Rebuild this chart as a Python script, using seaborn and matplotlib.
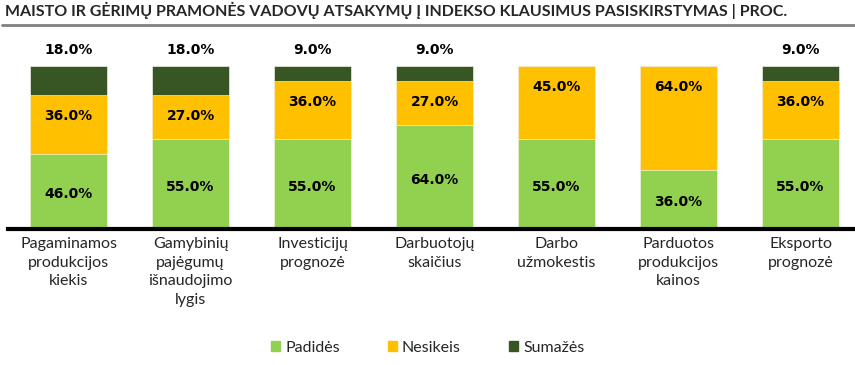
import matplotlib
matplotlib.use("Agg")
import matplotlib.pyplot as plt
from matplotlib.lines import Line2D
from matplotlib.patches import Patch
import pandas as pd
import seaborn as sns

# data (percent)
categories = ["Pagaminamos\nprodukcijos\nkiekis", "Gamybinių\npajėgumų\nišnaudojimo\nlygis",
              "Investicijų\nprognozė", "Darbuotojų\nskaičius", "Darbo\nužmokestis",
              "Parduotos\nprodukcijos\nkainos", "Eksporto\nprognozė"]
padides = [46, 55, 55, 64, 55, 36, 55]
nesikeis = [36, 27, 36, 27, 45, 64, 36]
sumazes = [18, 18, 9, 9, 0, 0, 9]
series_names = ["Padidės", "Nesikeis", "Sumažės"]
title = "MAISTO IR GĖRIMŲ PRAMONĖS VADOVŲ ATSAKYMŲ Į INDEKSO KLAUSIMUS PASISKIRSTYMAS | PROC."

c_up, c_same, c_down = "#92D050", "#FFC000", "#375623"

df = pd.DataFrame({"cat": categories, "up": padides, "same": nesikeis, "down": sumazes})
df["lvl2"] = df["up"] + df["same"]
df["lvl3"] = df["lvl2"] + df["down"]

sns.set_style("white")
plt.rcParams["font.family"] = ["Lato", "DejaVu Sans"]

fig = plt.figure(figsize=(8.55, 3.65), dpi=100)
ax = fig.add_axes([8 / 855, 136 / 365, 1 - 8 / 855, 163 / 365])

# stacked bars: draw cumulative totals, largest first
w = 0.63
sns.barplot(data=df, x="cat", y="lvl3", color=c_down, width=w, saturation=1, ax=ax, edgecolor="white", linewidth=0.4)
sns.barplot(data=df, x="cat", y="lvl2", color=c_same, width=w, saturation=1, ax=ax, edgecolor="white", linewidth=0.4)
sns.barplot(data=df, x="cat", y="up", color=c_up, width=w, saturation=1, ax=ax, edgecolor="white", linewidth=0.4)

lab = dict(fontsize=10, fontweight="bold", family="DejaVu Sans", ha="center", va="center", color="black")
for i, row in df.iterrows():
    ax.annotate(f"{row['up']:.1f}%", (i, row["up"] / 2), xytext=(0, -2), textcoords="offset points", **lab)
    ax.annotate(f"{row['same']:.1f}%", (i, row["lvl2"]), xytext=(0, -15), textcoords="offset points", **lab)
    if row["down"] > 0:
        ax.annotate(f"{row['down']:.1f}%", (i, row["lvl3"]), xytext=(0, 11.5), textcoords="offset points",
                    annotation_clip=False, **lab)

ax.set_xlim((8 - 68.5) / 122, (855 - 68.5) / 122)
ax.set_ylim(0, 100)
ax.set_xlabel("")
ax.set_ylabel("")
ax.set_yticks([])
for s in ["top", "left", "right"]:
    ax.spines[s].set_visible(False)
ax.spines["bottom"].set_linewidth(3)
ax.spines["bottom"].set_color("black")
ax.tick_params(axis="x", length=0, pad=6, labelsize=11.5)
for t in ax.get_xticklabels():
    t.set_linespacing(1.4)
    t.set_verticalalignment("top")

fig.text(5 / 855, 1 - 10 / 365, title, fontsize=11.5, fontweight="bold", ha="left", va="center")
fig.add_artist(Line2D([2 / 855, 1], [1 - 25 / 365] * 2, color="#808080", lw=2))

handles = [Patch(color=c) for c in [c_up, c_same, c_down]]
fig.legend(handles, series_names, loc="center", bbox_to_anchor=(0.5, 17 / 365), ncol=3, frameon=False,
           handlelength=0.6, handleheight=0.6, handletextpad=0.3, columnspacing=3.0, fontsize=11.5)

fig.savefig("out.png", dpi=100)
